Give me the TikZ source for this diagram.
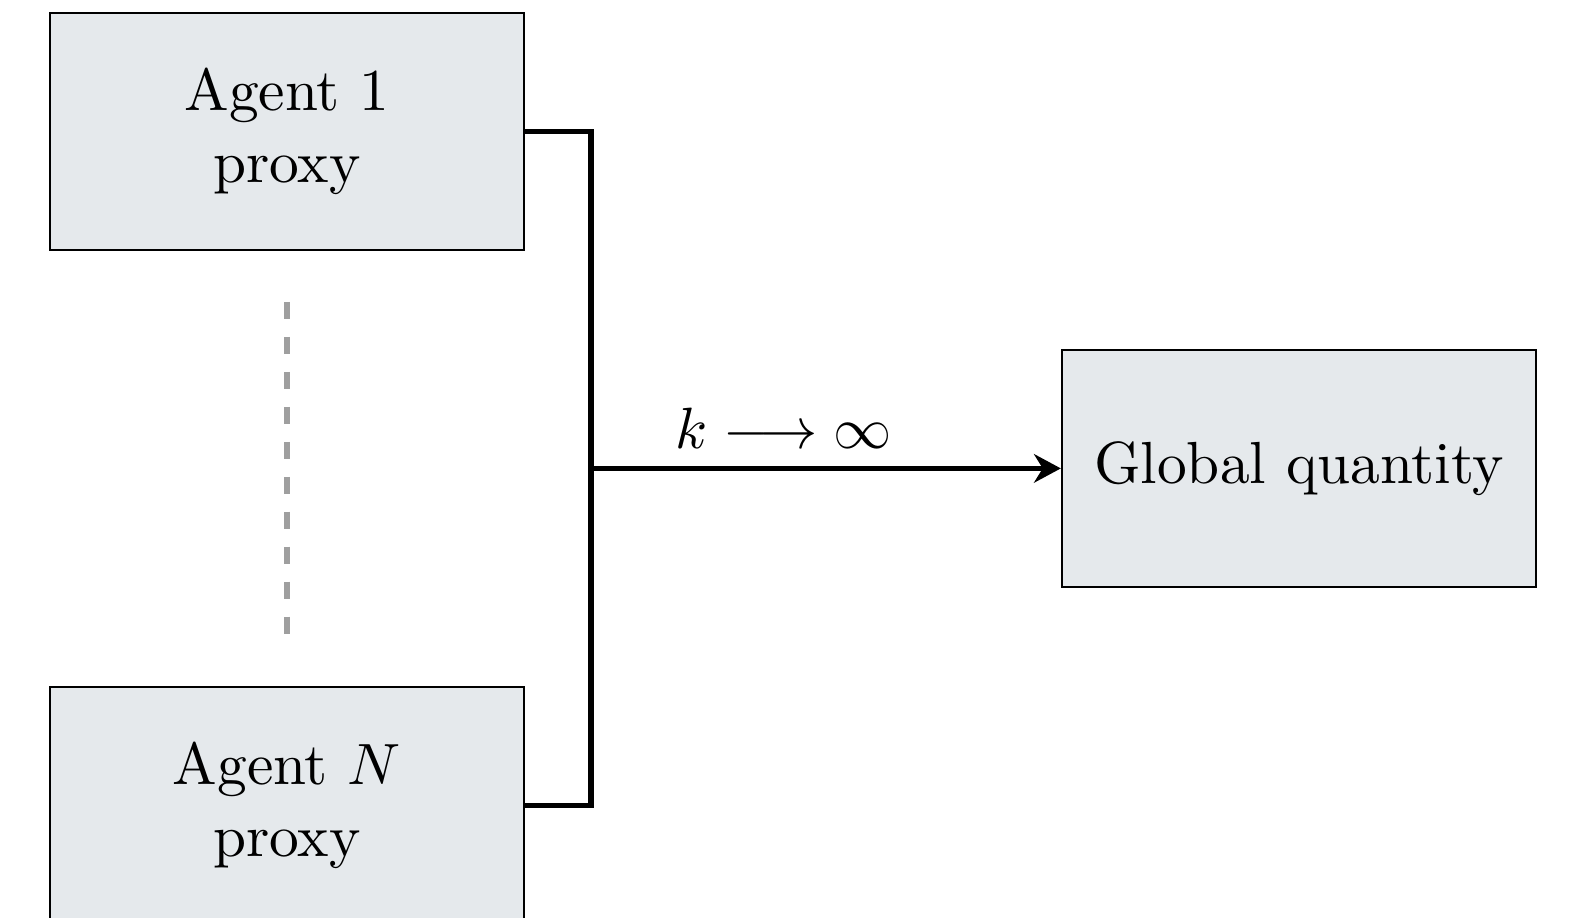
\documentclass[tikz,border=0pt]{standalone}
\usepackage{amsmath}
\usepackage{tikz}
\usetikzlibrary{arrows.meta,calc}
\usepackage{xcolor}
\definecolor{boxfill}{RGB}{229,233,236}

\begin{document}
\begin{tikzpicture}[
    every node/.style={font=\fontsize{10.2pt}{12.4pt}\selectfont},
    proxybox/.style={draw=black, fill=boxfill, minimum width=2.86cm,
      minimum height=1.43cm, align=center, inner sep=0pt},
    link/.style={line width=0.95pt, line join=miter}
  ]
        \useasboundingbox (0,0) rectangle (9.52,5.538);

        % Boxes
        \node[proxybox] (agentone) at (1.731,4.745) {Agent 1\\ proxy};
        \node[proxybox] (agentN) at (1.731,0.679) {Agent $N$\\ proxy};
        \node[proxybox] (global) at (7.837,2.712) {Global quantity};

        % Dots between the agents
        \coordinate (dtop) at (1.731,3.716);
        \coordinate (dbot) at (1.731,1.701);
        \draw[line width=1pt, dashed, gray!75] (dtop) -- (dbot);

        % Gathering line
        \coordinate (junction) at (3.566,2.712);
        \draw[link] (agentone.east) -| (junction) |- (agentN.east);

        % Limit arrow
        \draw[link, -{Stealth[length=4.6pt,width=4.9pt]}] (junction) -- (global.west)
          node[pos=0.41, above, inner sep=3pt] {$k \longrightarrow \infty$};
      \end{tikzpicture}
\end{document}
